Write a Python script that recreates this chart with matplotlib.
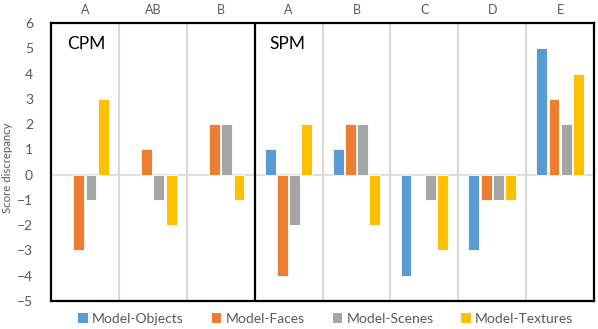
import matplotlib
matplotlib.use('Agg')
import matplotlib.pyplot as plt
from matplotlib.patches import Patch
import numpy as np

plt.rcParams['font.family'] = ['Lato', 'DejaVu Sans']

# groups on the x axis (first three belong to CPM, the rest to SPM)
groups = ['A', 'AB', 'B', 'A', 'B', 'C', 'D', 'E']
series = ['Model-Objects', 'Model-Faces', 'Model-Scenes', 'Model-Textures']
objects = [0, 0, 0, 1, 1, -4, -3, 5]
faces = [-3, 1, 2, -4, 2, 0, -1, 3]
scenes = [-1, -1, 2, -2, 2, -1, -1, 2]
textures = [3, -2, -1, 2, -2, -3, -1, 4]
colors = ['#5B9BD5', '#ED7D31', '#A5A5A5', '#FFC000']

tick_col = '#595959'

fig = plt.figure(figsize=(5.98, 3.29), dpi=100)
ax = fig.add_axes([0.0853, 0.085, 0.908, 0.845])

x = np.arange(len(groups))
step = 0.18
width = 0.16
for i, (vals, col) in enumerate(zip([objects, faces, scenes, textures], colors)):
    lws = [0.6 if v != 0 else 0 for v in vals]
    ax.bar(x + (i - 1.5) * step, vals, width, color=col,
           edgecolor='white', linewidth=lws, zorder=3)

ax.set_xlim(-0.5, len(groups) - 0.5)
ax.set_ylim(-5, 6)
ax.set_yticks(range(-5, 7))
ax.tick_params(axis='y', length=0, labelsize=10, labelcolor=tick_col, pad=13)

# category labels on top
ax.xaxis.tick_top()
ax.set_xticks(x)
ax.set_xticklabels(groups)
ax.tick_params(axis='x', length=0, labelsize=9, labelcolor=tick_col, pad=5)

# zero line and separators
ax.axhline(0, color='#D9D9D9', linewidth=1.2, zorder=1)
for sep in [0.5, 1.5, 3.5, 4.5, 5.5, 6.5]:
    ax.axvline(sep, color='#D9D9D9', linewidth=1.5, zorder=1)
ax.axvline(2.5, color='black', linewidth=1.6, zorder=4)

for s in ax.spines.values():
    s.set_color('black')
    s.set_linewidth(1.6)

ax.text(0.03, 0.955, 'CPM', transform=ax.transAxes, fontsize=12.5,
        va='top', ha='left', color='black')
ax.text(0.403, 0.955, 'SPM', transform=ax.transAxes, fontsize=12.5,
        va='top', ha='left', color='black')

ax.set_ylabel('Score discrepancy', fontsize=8.2, color=tick_col)
ax.yaxis.set_label_coords(-0.07, 0.478)

handles = [Patch(facecolor=c, edgecolor='none') for c in colors]
fig.legend(handles, series, loc='lower center', ncol=4, frameon=False,
           bbox_to_anchor=(0.545, -0.025), fontsize=10, labelcolor=tick_col,
           handlelength=0.7, handleheight=0.7, handletextpad=0.3,
           columnspacing=2.0)

fig.savefig('out.png', dpi=100)
